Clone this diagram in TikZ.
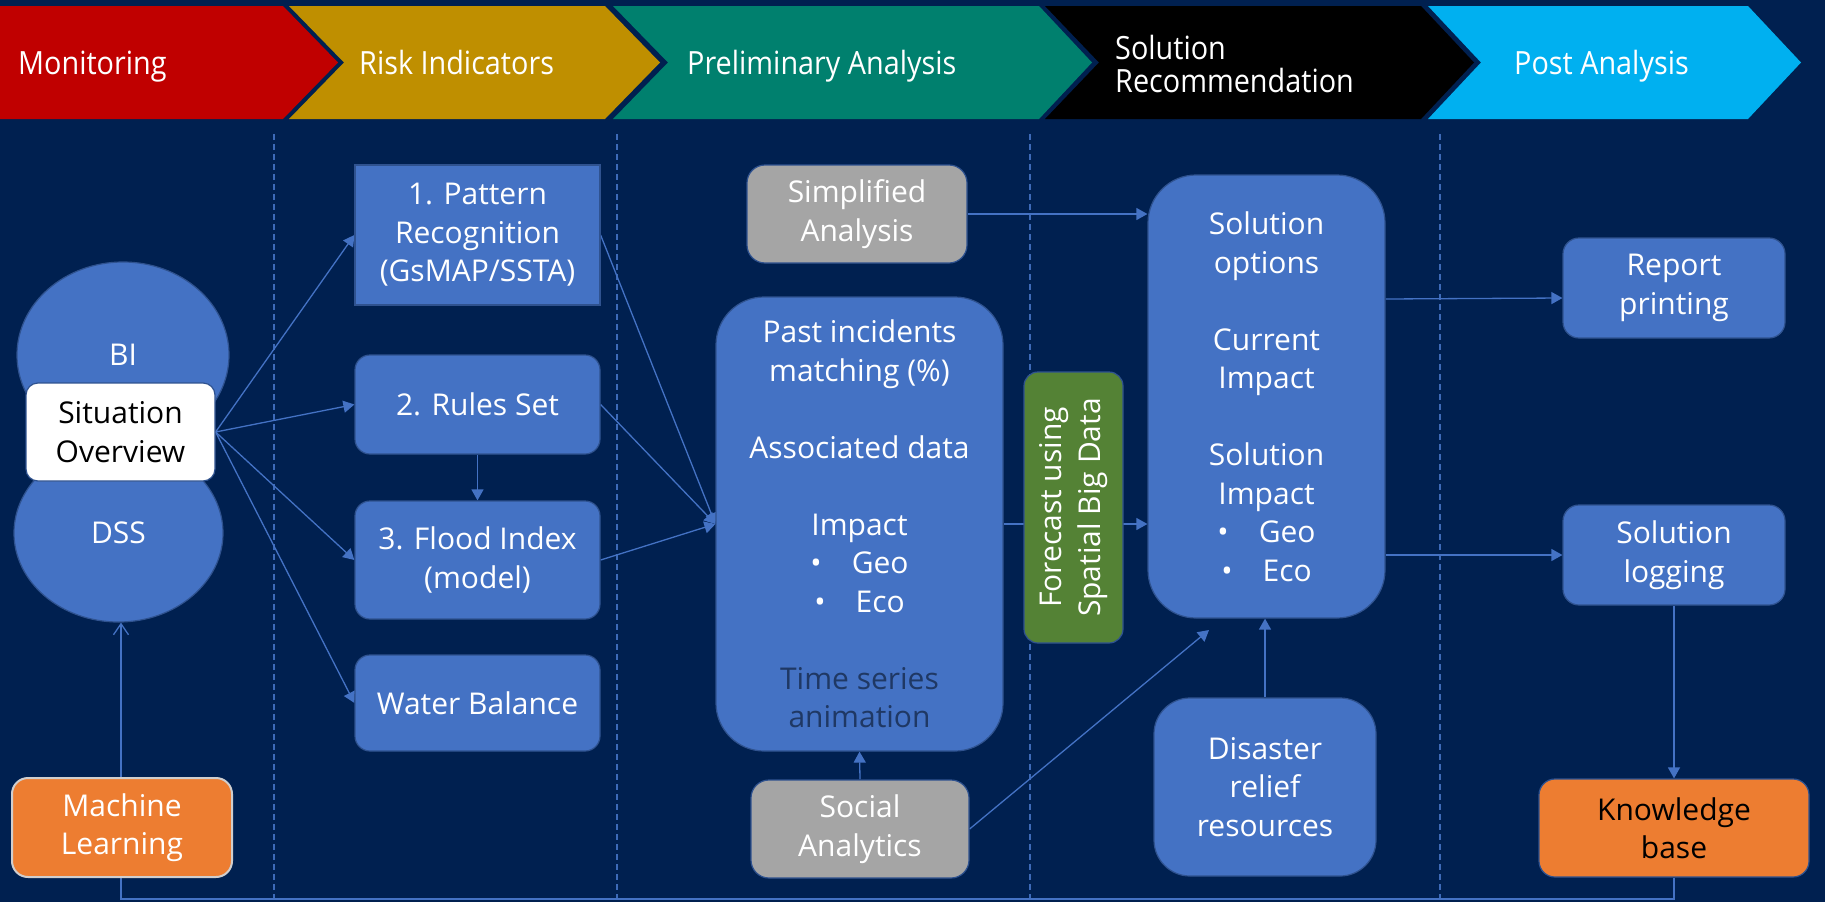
\documentclass[tikz,border=0pt]{standalone}
\usepackage{fontspec}
\setmainfont{Open Sans}
\newfontfamily\bodyfam{Open Sans}
\newfontfamily\hdrfam[FakeStretch=0.9]{Open Sans}
\usetikzlibrary{arrows.meta,shapes.geometric,calc}
\definecolor{bgc}{HTML}{002050}
\definecolor{boxc}{HTML}{4472C4}
\definecolor{bord}{HTML}{2F528F}
\definecolor{greyc}{HTML}{A5A5A5}
\definecolor{orangec}{HTML}{ED7D31}
\definecolor{greenc}{HTML}{548235}
\definecolor{redc}{HTML}{C00000}
\definecolor{goldc}{HTML}{BF8F00}
\definecolor{tealc}{HTML}{00806E}
\definecolor{skyc}{HTML}{00B0F0}
\definecolor{tsc}{HTML}{1F3864}
\definecolor{linec}{HTML}{4472C4}
\definecolor{dashc}{HTML}{3D6AB8}
\definecolor{lgc}{HTML}{D0CECE}
\pgfdeclarelayer{back}
\pgfdeclarelayer{lines}
\pgfsetlayers{back,lines,main}
\newcommand\bodyf{\bodyfam\fontsize{30}{38.5}\selectfont}
\newcommand\hdrf{\hdrfam\fontsize{32}{33}\selectfont}
\begin{document}
\begin{tikzpicture}[x=1pt,y=-1pt,
  box/.style={draw=bord,line width=1.2pt,fill=boxc,text=white,font=\bodyf,align=center,inner sep=0pt,rounded corners=#1},
  box/.default=15pt,
  ell/.style={ellipse,draw=bord,line width=1.2pt,fill=boxc,text=white,font=\bodyf,inner sep=0pt},
  hdr/.style={text=white,font=\hdrf,anchor=base west,align=left,inner sep=0pt},
  hdrtwo/.style={text=white,font=\hdrf,anchor=west,align=left,inner sep=0pt},
  conn/.style={draw=linec,line width=1.3pt,-{Triangle[length=11pt,width=12pt]}},
  loopline/.style={draw=linec,line width=1.3pt,-{Straight Barb[length=11pt,width=15pt]}},
  sep/.style={draw=dashc,line width=1.2pt,dash pattern=on 6pt off 4pt}]
\useasboundingbox (0,0) rectangle (1825,902);
\begin{pgfonlayer}{back}
\fill[bgc] (0,0) rectangle (1825,902);
\fill[redc] (0,6) -- (283,6) -- (338,62.5) -- (283,119) -- (0,119) -- cycle;
\fill[goldc] (289,6) -- (605,6) -- (660,62.5) -- (605,119) -- (289,119) -- (344,62.5) -- cycle;
\fill[tealc] (613,6) -- (1039,6) -- (1092,62.5) -- (1039,119) -- (613,119) -- (668,62.5) -- cycle;
\fill[black] (1045,6) -- (1421,6) -- (1474,62.5) -- (1421,119) -- (1045,119) -- (1099,62.5) -- cycle;
\fill[skyc] (1428,6) -- (1748,6) -- (1801,62.5) -- (1748,119) -- (1428,119) -- (1481,62.5) -- cycle;
\draw[sep] (274,134) -- (274,898);
\draw[sep] (617,134) -- (617,898);
\draw[sep] (1030,134) -- (1030,898);
\draw[sep] (1440,134) -- (1440,898);
\end{pgfonlayer}
% header texts
\node[hdr] (hmon) at (18,74) {Monitoring};
\node[hdr] (hrisk) at (359,74) {Risk Indicators};
\node[hdr] (hpre) at (687,74) {Preliminary Analysis};
\node[hdrtwo] (hsol) at (1115,64) {Solution\\Recommendation};
\node[hdr] (hpost) at (1514,74) {Post Analysis};
% monitoring column
\node[ell,minimum width=212pt,minimum height=186pt] (bi) at (123,355) {BI};
\node[ell,minimum width=209pt,minimum height=178pt] (dss) at (118.5,533) {DSS};
\node[box=12pt,fill=white,text=black,minimum width=189pt,minimum height=98pt] (sit) at (120.5,432) {Situation\\Overview};
\node[box=16pt,fill=orangec,draw=lgc,line width=2pt,minimum width=220pt,minimum height=99pt] (ml) at (122,827.5) {Machine\\Learning};
% risk indicators column
\node[box=0pt,minimum width=245pt,minimum height=140pt] (p1) at (477.5,235) {1. Pattern\\Recognition\\(GsMAP/SSTA)};
\node[box=15pt,minimum width=245pt,minimum height=99pt] (rs) at (477.5,404.5) {2. Rules Set};
\node[box=15pt,minimum width=245pt,minimum height=118pt] (fi) at (477.5,560) {3. Flood Index\\(model)};
\node[box=15pt,minimum width=245pt,minimum height=96pt] (wb) at (477.5,703) {Water Balance};
% preliminary analysis column
\node[box=18pt,fill=greyc,minimum width=220pt,minimum height=98pt] (sa) at (857,214) {Simplified\\Analysis};
\node[box=48pt,minimum width=287pt,minimum height=454pt] (big) at (859.5,524) {Past incidents\\matching (\%)\\\mbox{}\\Associated data\\\mbox{}\\Impact\\\textbullet\hspace{1em}Geo\\\textbullet\hspace{1em}Eco\\\mbox{}\\{\color{tsc}Time series}\\{\color{tsc}animation}};
\node[box=18pt,fill=greyc,minimum width=218pt,minimum height=98pt] (soc) at (860,829) {Social\\Analytics};
\node[box=14pt,fill=greenc,rotate=90,minimum width=271pt,minimum height=99pt] (fc) at (1073.5,507.5) {Forecast using\\Spatial Big Data};
% solution recommendation column
\node[box=48pt,minimum width=237pt,minimum height=443pt] (sol) at (1266.5,396.5) {Solution\\options\\\mbox{}\\Current\\Impact\\\mbox{}\\Solution\\Impact\\\textbullet\hspace{1em}Geo\\\textbullet\hspace{1em}Eco};
\node[box=36pt,minimum width=222pt,minimum height=178pt] (dis) at (1265,787) {Disaster\\relief\\resources};
% post analysis column
\node[box=16pt,minimum width=222pt,minimum height=100pt] (rep) at (1674,288) {Report\\printing};
\node[box=16pt,minimum width=222pt,minimum height=100pt] (log) at (1674,555) {Solution\\logging};
\node[box=16pt,fill=orangec,text=black,minimum width=270pt,minimum height=98pt] (kb) at (1674,828) {Knowledge\\base};
% connectors
\begin{pgfonlayer}{lines}
\draw[conn] (sit.east) -- (p1.west);
\draw[conn] (sit.east) -- (rs.west);
\draw[conn] (sit.east) -- (fi.west);
\draw[conn] (sit.east) -- (wb.west);
\draw[conn] (rs.south) -- (fi.north);
\draw[conn] (p1.east) -- (big.west);
\draw[conn] (rs.east) -- (big.west);
\draw[conn] (fi.east) -- (big.west);
\draw[conn] (soc.north) -- (big.south);
\draw[conn] (sa.east) -- (sa.east -| sol.west);
\draw[conn] (big.east) -- (big.east -| sol.west);
\coordinate (socend) at (1209,630);
\draw[conn] (soc.east) -- (socend);
\draw[conn] (dis.north) -- (dis.north |- sol.south);
\draw[conn] ($(sol.east |- rep.west)+(0,11)$) -- ($(rep.west)+(0,10)$);
\draw[conn] (sol.east |- log.west) -- (log.west);
\draw[conn] (log.south) -- (kb.north);
\coordinate (loopR) at (1674,899);
\coordinate (loopL) at (121,899);
\draw[loopline] (kb.south) -- (loopR) -- (loopL) -- (loopL |- dss.south);
\end{pgfonlayer}
\end{tikzpicture}
\end{document}
